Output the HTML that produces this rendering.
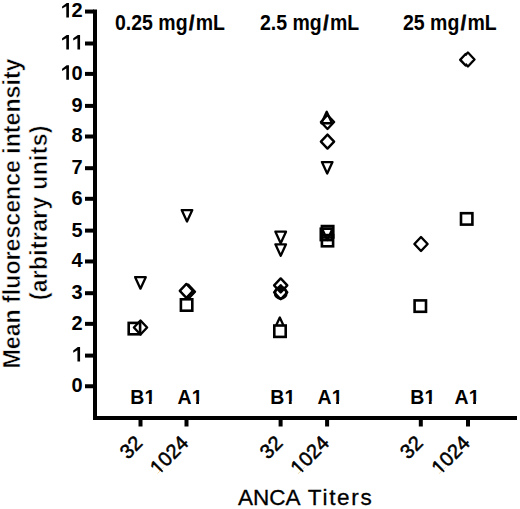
<!DOCTYPE html>
<html><head><meta charset="utf-8"><style>
html,body{margin:0;padding:0;background:#fff;}
svg{display:block;}
text{font-family:"Liberation Sans",sans-serif;fill:#000;}
.yt{font-size:20px;font-weight:700;text-anchor:end;font-kerning:none;}
.h1{fill:transparent;}
.tt{font-size:19.5px;font-weight:700;}
.sl{stroke:#000;stroke-width:0.9px;font-size:17.5px;}
.xl{font-size:20px;font-weight:400;text-anchor:end;stroke:#000;stroke-width:0.55px;}
.xa{font-size:22.5px;font-weight:400;stroke:#000;stroke-width:0.3px;}
.ya{font-size:23px;font-weight:700;text-anchor:middle;stroke:#fff;stroke-width:0.5px;}
</style></head><body>
<svg width="520" height="509" viewBox="0 0 520 509">
<rect width="520" height="509" fill="#fff"/>
<rect x="93" y="9.5" width="4" height="410.5" fill="#000"/>
<rect x="93" y="416" width="424" height="4" fill="#000"/>
<rect x="85" y="384.25" width="9" height="4" fill="#000"/>
<text x="82.5" y="392.15" class="yt">0</text>
<rect x="85" y="353.60" width="9" height="4" fill="#000"/>
<text x="82.5" y="361.50" class="yt"><tspan class="h1">1</tspan></text>
<path d="M80.08,361.50 V347.05 H77.83 L73.23,350.45 V352.65 L77.43,350.25 V361.50 Z" fill="#000"/>
<rect x="85" y="321.85" width="9" height="4" fill="#000"/>
<text x="82.5" y="329.75" class="yt">2</text>
<rect x="85" y="291.20" width="9" height="4" fill="#000"/>
<text x="82.5" y="299.10" class="yt">3</text>
<rect x="85" y="259.45" width="9" height="4" fill="#000"/>
<text x="82.5" y="267.35" class="yt">4</text>
<rect x="85" y="228.60" width="9" height="4" fill="#000"/>
<text x="82.5" y="236.50" class="yt">5</text>
<rect x="85" y="196.80" width="9" height="4" fill="#000"/>
<text x="82.5" y="204.70" class="yt">6</text>
<rect x="85" y="166.20" width="9" height="4" fill="#000"/>
<text x="82.5" y="174.10" class="yt">7</text>
<rect x="85" y="134.50" width="9" height="4" fill="#000"/>
<text x="82.5" y="142.40" class="yt">8</text>
<rect x="85" y="103.90" width="9" height="4" fill="#000"/>
<text x="82.5" y="111.80" class="yt">9</text>
<rect x="85" y="71.90" width="9" height="4" fill="#000"/>
<text x="82.5" y="79.80" class="yt"><tspan class="h1">1</tspan>0</text>
<path d="M68.95,79.80 V65.35 H66.70 L62.10,68.75 V70.95 L66.30,68.55 V79.80 Z" fill="#000"/>
<rect x="85" y="41.50" width="9" height="4" fill="#000"/>
<text x="82.5" y="49.40" class="yt"><tspan class="h1">1</tspan><tspan class="h1">1</tspan></text>
<path d="M68.95,49.40 V34.95 H66.70 L62.10,38.35 V40.55 L66.30,38.15 V49.40 Z" fill="#000"/>
<path d="M80.08,49.40 V34.95 H77.83 L73.23,38.35 V40.55 L77.43,38.15 V49.40 Z" fill="#000"/>
<rect x="85" y="9.55" width="9" height="4" fill="#000"/>
<text x="82.5" y="17.45" class="yt"><tspan class="h1">1</tspan>2</text>
<path d="M68.95,17.45 V3.00 H66.70 L62.10,6.40 V8.60 L66.30,6.20 V17.45 Z" fill="#000"/>
<rect x="138.50" y="419" width="4" height="7.5" fill="#000"/>
<rect x="184.50" y="419" width="4" height="7.5" fill="#000"/>
<rect x="278.60" y="419" width="4" height="7.5" fill="#000"/>
<rect x="325.10" y="419" width="4" height="7.5" fill="#000"/>
<rect x="418.80" y="419" width="4" height="7.5" fill="#000"/>
<rect x="466.00" y="419" width="4" height="7.5" fill="#000"/>
<text transform="translate(115,30.1) scale(1,1.12)" x="0" y="0" class="tt">0.25 mg<tspan dx="1.7" class="sl">/</tspan><tspan dx="1.65">mL</tspan></text>
<text transform="translate(260,30.1) scale(1,1.12)" x="0" y="0" class="tt">2.5 mg<tspan dx="1.7" class="sl">/</tspan><tspan dx="1.65">mL</tspan></text>
<text transform="translate(403,30.1) scale(1,1.12)" x="0" y="0" class="tt">25 mg<tspan dx="1.7" class="sl">/</tspan><tspan dx="1.65">mL</tspan></text>
<text x="130.3" y="403.6" class="tt">B1</text>
<text x="270.3" y="403.6" class="tt">B1</text>
<text x="410.3" y="403.6" class="tt">B1</text>
<text x="177.6" y="403.6" class="tt">A1</text>
<text x="317.6" y="403.6" class="tt">A1</text>
<text x="454.6" y="403.6" class="tt">A1</text>
<text transform="translate(143.70,444.2) rotate(-45)" x="0" y="0" class="xl">32</text>
<text transform="translate(189.70,444.2) rotate(-45)" x="0" y="0" class="xl">1024</text>
<text transform="translate(283.80,444.2) rotate(-45)" x="0" y="0" class="xl">32</text>
<text transform="translate(330.30,444.2) rotate(-45)" x="0" y="0" class="xl">1024</text>
<text transform="translate(424.00,444.2) rotate(-45)" x="0" y="0" class="xl">32</text>
<text transform="translate(471.20,444.2) rotate(-45)" x="0" y="0" class="xl">1024</text>
<text x="238" y="505.3" class="xa">ANCA <tspan dx="2.3" letter-spacing="1.7">Titers</tspan></text>
<text transform="translate(19.6,213.5) rotate(-90)" x="0" y="0" class="ya" style="font-size:23.15px">Mean fluorescence intensity</text>
<text transform="translate(47.2,212.8) rotate(-90)" x="0" y="0" class="ya" letter-spacing="0.3">(arbitrary units)</text>
<polygon points="135.15,277.15 145.75,277.15 140.45,288.65" fill="none" stroke="#000" stroke-width="2.3" stroke-linejoin="round"/>
<rect x="128.70" y="322.90" width="11.40" height="11.40" fill="none" stroke="#000" stroke-width="2.6"/>
<polygon points="140.50,320.50 147.10,327.50 140.50,334.50 133.90,327.50" fill="none" stroke="#000" stroke-width="2.4" stroke-linejoin="round"/>
<polygon points="181.70,210.05 192.30,210.05 187.00,221.55" fill="none" stroke="#000" stroke-width="2.3" stroke-linejoin="round"/>
<polygon points="188.40,284.70 195.00,291.70 188.40,298.70 181.80,291.70" fill="none" stroke="#000" stroke-width="2.4" stroke-linejoin="round"/>
<polygon points="186.40,283.90 193.00,290.90 186.40,297.90 179.80,290.90" fill="#fff" stroke="#000" stroke-width="2.4" stroke-linejoin="round"/>
<rect x="180.90" y="299.30" width="11.40" height="11.40" fill="none" stroke="#000" stroke-width="2.6"/>
<polygon points="275.40,231.65 286.00,231.65 280.70,243.15" fill="none" stroke="#000" stroke-width="2.3" stroke-linejoin="round"/>
<polygon points="275.40,244.35 286.00,244.35 280.70,255.85" fill="none" stroke="#000" stroke-width="2.3" stroke-linejoin="round"/>
<polygon points="280.70,278.40 287.30,285.40 280.70,292.40 274.10,285.40" fill="none" stroke="#000" stroke-width="2.4" stroke-linejoin="round"/>
<polygon points="280.70,285.20 287.30,292.20 280.70,299.20 274.10,292.20" fill="none" stroke="#000" stroke-width="2.4" stroke-linejoin="round"/>
<circle cx="280.7" cy="292.9" r="5.70" fill="none" stroke="#000" stroke-width="2.6"/>
<rect x="278.7" y="287.3" width="4" height="4" fill="#000"/>
<polygon points="274.50,328.95 285.10,328.95 279.80,317.45" fill="none" stroke="#000" stroke-width="2.3" stroke-linejoin="round"/>
<rect x="274.30" y="325.50" width="11.40" height="11.40" fill="#fff" stroke="#000" stroke-width="2.6"/>
<polygon points="321.40,123.25 332.00,123.25 326.70,111.75" fill="none" stroke="#000" stroke-width="2.3" stroke-linejoin="round"/>
<polygon points="327.50,115.00 334.10,122.00 327.50,129.00 320.90,122.00" fill="none" stroke="#000" stroke-width="2.4" stroke-linejoin="round"/>
<polygon points="327.50,134.60 334.10,141.60 327.50,148.60 320.90,141.60" fill="none" stroke="#000" stroke-width="2.4" stroke-linejoin="round"/>
<polygon points="321.90,162.05 332.50,162.05 327.20,173.55" fill="none" stroke="#000" stroke-width="2.3" stroke-linejoin="round"/>
<rect x="321.90" y="226.05" width="11.40" height="11.40" fill="none" stroke="#000" stroke-width="2.6"/>
<polygon points="322.00,228.55 332.60,228.55 327.30,240.05" fill="none" stroke="#000" stroke-width="2.3" stroke-linejoin="round"/>
<rect x="320.80" y="228.70" width="11.40" height="11.40" fill="none" stroke="#000" stroke-width="2.6"/>
<rect x="321.90" y="235.10" width="11.20" height="11.20" fill="none" stroke="#000" stroke-width="2.6"/>
<polygon points="421.00,237.00 427.60,244.00 421.00,251.00 414.40,244.00" fill="none" stroke="#000" stroke-width="2.4" stroke-linejoin="round"/>
<rect x="414.60" y="300.40" width="11.40" height="11.40" fill="none" stroke="#000" stroke-width="2.6"/>
<polygon points="465.60,54.10 471.00,59.80 465.60,65.50 460.20,59.80" fill="none" stroke="#000" stroke-width="2.4" stroke-linejoin="round"/>
<polygon points="467.90,52.50 474.50,59.50 467.90,66.50 461.30,59.50" fill="none" stroke="#000" stroke-width="2.4" stroke-linejoin="round"/>
<polygon points="465.60,55.80 469.30,59.80 465.60,63.80 461.90,59.80" fill="#fff"/>
<polygon points="467.90,54.25 472.80,59.50 467.90,64.75 463.00,59.50" fill="#fff"/>
<rect x="461.00" y="213.20" width="11.40" height="11.40" fill="none" stroke="#000" stroke-width="2.6"/>
<rect x="144.38" y="401.22" width="4.48" height="4.00" fill="#fff"/><rect x="151.68" y="401.22" width="4.31" height="4.00" fill="#fff"/>
<rect x="284.38" y="401.22" width="4.48" height="4.00" fill="#fff"/><rect x="291.68" y="401.22" width="4.31" height="4.00" fill="#fff"/>
<rect x="424.38" y="401.22" width="4.48" height="4.00" fill="#fff"/><rect x="431.68" y="401.22" width="4.31" height="4.00" fill="#fff"/>
<rect x="191.68" y="401.22" width="4.48" height="4.00" fill="#fff"/><rect x="198.98" y="401.22" width="4.31" height="4.00" fill="#fff"/>
<rect x="331.68" y="401.22" width="4.48" height="4.00" fill="#fff"/><rect x="338.98" y="401.22" width="4.31" height="4.00" fill="#fff"/>
<rect x="468.68" y="401.22" width="4.48" height="4.00" fill="#fff"/><rect x="475.98" y="401.22" width="4.31" height="4.00" fill="#fff"/>
<g transform="translate(189.70,444.2) rotate(-45)"><rect x="-44.30" y="-1.95" width="4.80" height="3.61" fill="#fff"/><rect x="-37.67" y="-1.95" width="4.70" height="3.61" fill="#fff"/></g>
<g transform="translate(330.30,444.2) rotate(-45)"><rect x="-44.30" y="-1.95" width="4.80" height="3.61" fill="#fff"/><rect x="-37.67" y="-1.95" width="4.70" height="3.61" fill="#fff"/></g>
<g transform="translate(471.20,444.2) rotate(-45)"><rect x="-44.30" y="-1.95" width="4.80" height="3.61" fill="#fff"/><rect x="-37.67" y="-1.95" width="4.70" height="3.61" fill="#fff"/></g>
</svg>
</body></html>
